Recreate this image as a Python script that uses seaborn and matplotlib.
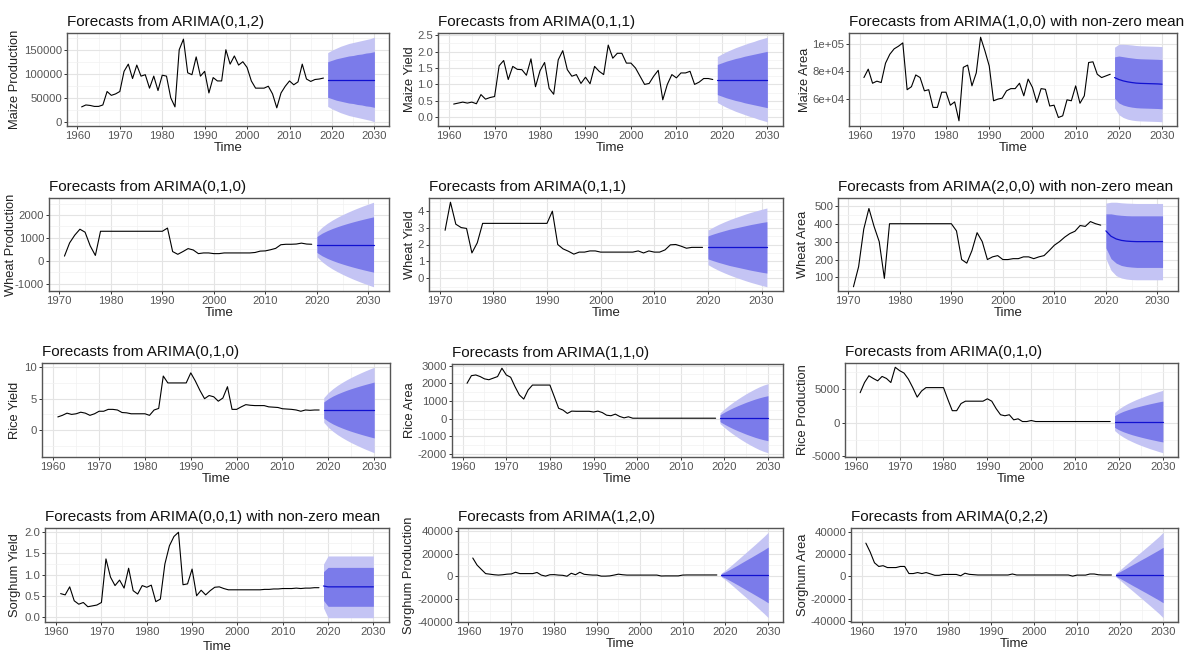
import matplotlib
matplotlib.use("Agg")
import matplotlib.pyplot as plt
from matplotlib.ticker import AutoMinorLocator
import seaborn as sns

# ---- data ----
years_a = list(range(1961, 2019))      # observed years, most panels
fc_years_a = list(range(2019, 2031))   # forecast horizon
years_b = list(range(1971, 2020))      # wheat panels
fc_years_b = list(range(2020, 2032))

maize_prod = [31000, 35000, 34000, 32000, 32000, 35000, 63000, 55000, 58000, 63000,
              105000, 120000, 90000, 118000, 95000, 98000, 70000, 95000, 65000, 97000,
              95000, 50000, 31000, 150000, 172000, 102000, 98000, 135000, 95000, 105000,
              60000, 92000, 85000, 85000, 150000, 120000, 137000, 118000, 125000, 113000,
              85000, 70000, 70000, 70000, 74000, 58000, 29000, 60000, 74000, 85000,
              77000, 83000, 120000, 89000, 84000, 88000, 89000, 91000]
maize_prod_mean = [88000, 88000, 88000, 88000, 88000, 88000, 88000, 88000, 88000, 88000, 88000, 88000]
maize_prod_h80 = [37000, 40000, 43000, 45000, 47000, 49000, 50000, 52000, 53000, 55000, 56000, 58000]
maize_prod_h95 = [56000, 61000, 65000, 69000, 72000, 75000, 77000, 79000, 81000, 83000, 85000, 88000]

maize_yield = [0.40, 0.43, 0.46, 0.43, 0.46, 0.41, 0.69, 0.55, 0.60, 0.63,
               1.57, 1.73, 1.15, 1.55, 1.46, 1.45, 1.28, 1.78, 0.93, 1.42,
               1.67, 0.88, 0.70, 1.75, 2.03, 1.45, 1.25, 1.30, 1.03, 1.22,
               1.02, 1.55, 1.40, 1.30, 2.20, 1.80, 1.95, 1.95, 1.65, 1.65,
               1.50, 1.25, 1.00, 1.03, 1.25, 1.43, 0.53, 1.00, 1.30, 1.20,
               1.35, 1.35, 1.40, 1.00, 1.07, 1.18, 1.18, 1.15]
maize_yield_mean = [1.15, 1.15, 1.15, 1.15, 1.15, 1.15, 1.15, 1.15, 1.15, 1.15, 1.15, 1.15]
maize_yield_h80 = [0.46, 0.51, 0.56, 0.60, 0.64, 0.67, 0.71, 0.74, 0.77, 0.80, 0.83, 0.86]
maize_yield_h95 = [0.70, 0.78, 0.85, 0.91, 0.97, 1.02, 1.07, 1.12, 1.16, 1.21, 1.25, 1.29]

maize_area = [75600, 81700, 71500, 73000, 72000, 86000, 92500, 96400, 98300, 100700,
              66800, 69000, 77500, 75600, 66000, 66800, 54000, 54000, 65000, 65000,
              55600, 58000, 44300, 83000, 84600, 69600, 79000, 104800, 95000, 84000,
              58800, 60000, 60700, 66000, 67600, 67600, 71500, 62400, 74500, 68500,
              57600, 67600, 67100, 55000, 55600, 46700, 47900, 59500, 58800, 69600,
              57000, 62400, 86500, 87000, 78000, 75600, 76800, 78000]
maize_area_mean = [75600, 74200, 73200, 72500, 72000, 71600, 71400, 71300, 71200, 71100, 71000, 70800]
maize_area_h80 = [15000, 17000, 17500, 17700, 17800, 17800, 17800, 17800, 17800, 17800, 17800, 17800]
maize_area_h95 = [22000, 25500, 26500, 27000, 27200, 27200, 27200, 27200, 27200, 27200, 27200, 27200]

wheat_prod = [200, 780, 1120, 1380, 1250, 650, 230, 1290, 1290, 1290,
              1290, 1290, 1290, 1290, 1290, 1290, 1290, 1290, 1290, 1290,
              1430, 400, 280, 400, 530, 470, 310, 340, 340, 310,
              310, 340, 340, 340, 340, 340, 340, 360, 420, 430,
              480, 540, 700, 720, 720, 730, 770, 730, 720]
wheat_prod_mean = [710, 710, 710, 710, 710, 710, 710, 710, 710, 710, 710, 710]
wheat_prod_h80 = [350, 495, 606, 700, 783, 857, 926, 990, 1050, 1107, 1161, 1212]
wheat_prod_h95 = [535, 757, 927, 1070, 1196, 1310, 1415, 1513, 1605, 1692, 1774, 1853]

wheat_yield = [2.84, 4.50, 3.20, 3.00, 2.95, 1.50, 2.10, 3.25, 3.25, 3.25,
               3.25, 3.25, 3.25, 3.25, 3.25, 3.25, 3.25, 3.25, 3.25, 3.25,
               3.97, 2.00, 1.74, 1.60, 1.43, 1.55, 1.55, 1.62, 1.62, 1.55,
               1.55, 1.55, 1.55, 1.55, 1.55, 1.55, 1.62, 1.50, 1.62, 1.55,
               1.55, 1.68, 1.98, 2.00, 1.90, 1.78, 1.83, 1.83, 1.83]
wheat_yield_mean = [1.83, 1.83, 1.83, 1.83, 1.83, 1.83, 1.83, 1.83, 1.83, 1.83, 1.83, 1.83]
wheat_yield_h80 = [0.68, 0.79, 0.89, 0.98, 1.07, 1.14, 1.21, 1.28, 1.35, 1.41, 1.47, 1.52]
wheat_yield_h95 = [1.02, 1.20, 1.36, 1.50, 1.63, 1.75, 1.86, 1.97, 2.07, 2.16, 2.25, 2.33]

wheat_area = [48, 160, 370, 485, 385, 300, 95, 400, 400, 400,
              400, 400, 400, 400, 400, 400, 400, 400, 400, 400,
              360, 200, 180, 250, 350, 300, 200, 215, 222, 200,
              200, 205, 205, 215, 215, 205, 215, 222, 250, 280,
              300, 325, 345, 358, 390, 385, 412, 400, 392]
wheat_area_mean = [360, 330, 315, 307, 303, 301, 300, 300, 300, 300, 300, 300]
wheat_area_h80 = [95, 125, 135, 140, 142, 143, 144, 144, 144, 144, 144, 144]
wheat_area_h95 = [155, 190, 205, 210, 212, 213, 213, 213, 213, 213, 213, 213]

rice_yield = [2.1, 2.35, 2.7, 2.5, 2.6, 2.85, 2.7, 2.35, 2.6, 3.0,
              3.0, 3.3, 3.3, 3.2, 2.8, 2.75, 2.6, 2.6, 2.6, 2.6,
              2.35, 3.2, 3.45, 8.6, 7.5, 7.5, 7.5, 7.5, 7.5, 9.1,
              7.8, 6.3, 5.0, 5.5, 5.3, 4.6, 5.1, 6.9, 3.3, 3.3,
              3.7, 4.05, 3.95, 3.9, 3.9, 3.9, 3.7, 3.65, 3.6, 3.4,
              3.35, 3.3, 3.2, 3.0, 3.2, 3.15, 3.2, 3.2]
rice_yield_mean = [3.2, 3.2, 3.2, 3.2, 3.2, 3.2, 3.2, 3.2, 3.2, 3.2, 3.2, 3.2]
rice_yield_h80 = [1.28, 1.81, 2.22, 2.56, 2.86, 3.14, 3.39, 3.62, 3.84, 4.05, 4.25, 4.44]
rice_yield_h95 = [1.96, 2.77, 3.39, 3.92, 4.38, 4.80, 5.19, 5.54, 5.88, 6.20, 6.50, 6.79]

rice_area = [2000, 2430, 2470, 2380, 2250, 2200, 2290, 2380, 2850, 2470,
             2340, 1810, 1340, 1110, 1620, 1900, 1900, 1900, 1900, 1900,
             1250, 590, 490, 300, 430, 420, 420, 420, 420, 380,
             430, 350, 200, 170, 260, 130, 50, 110, 30, 30,
             30, 30, 30, 30, 30, 30, 30, 30, 30, 30,
             30, 30, 30, 30, 30, 30, 30, 30]
rice_area_mean = [30, 30, 30, 30, 30, 30, 30, 30, 30, 30, 30, 30]
rice_area_h80 = [195, 340, 470, 590, 700, 800, 900, 990, 1075, 1150, 1215, 1270]
rice_area_h95 = [300, 520, 720, 900, 1070, 1230, 1380, 1520, 1650, 1770, 1870, 1950]

rice_prod = [4400, 5900, 6900, 6500, 6150, 6800, 6500, 5900, 8150, 7650,
             7300, 6400, 5150, 3750, 4650, 5150, 5150, 5150, 5150, 5150,
             3400, 1750, 1750, 2800, 3150, 3150, 3150, 3150, 3150, 3500,
             3150, 2050, 1150, 1000, 1150, 400, 550, 150, 150, 300,
             150, 150, 150, 150, 150, 150, 150, 150, 150, 150,
             150, 150, 150, 150, 150, 150, 150, 150]
rice_prod_mean = [150, 150, 150, 150, 150, 150, 150, 150, 150, 150, 150, 150]
rice_prod_h80 = [870, 1230, 1510, 1740, 1950, 2130, 2300, 2460, 2610, 2750, 2890, 3010]
rice_prod_h95 = [1330, 1880, 2300, 2660, 2970, 3260, 3520, 3760, 3990, 4200, 4410, 4600]

sorghum_yield = [0.55, 0.52, 0.71, 0.38, 0.30, 0.34, 0.24, 0.26, 0.28, 0.34,
                 1.37, 0.94, 0.74, 0.87, 0.68, 1.15, 0.62, 0.54, 0.74, 0.70,
                 0.75, 0.36, 0.42, 1.25, 1.68, 1.90, 2.00, 0.76, 0.78, 1.13,
                 0.50, 0.63, 0.52, 0.62, 0.70, 0.71, 0.67, 0.64, 0.64, 0.64,
                 0.64, 0.64, 0.64, 0.64, 0.64, 0.65, 0.65, 0.66, 0.66, 0.67,
                 0.67, 0.67, 0.68, 0.67, 0.68, 0.68, 0.69, 0.69]
sorghum_yield_mean = [0.73, 0.71, 0.71, 0.71, 0.71, 0.71, 0.71, 0.71, 0.71, 0.71, 0.71, 0.71]
sorghum_yield_h80 = [0.34, 0.46, 0.46, 0.46, 0.46, 0.46, 0.46, 0.46, 0.46, 0.46, 0.46, 0.46]
sorghum_yield_h95 = [0.52, 0.73, 0.73, 0.73, 0.73, 0.73, 0.73, 0.73, 0.73, 0.73, 0.73, 0.73]

sorghum_prod = [16200, 10000, 6200, 2500, 2000, 1500, 1200, 1500, 2000, 2200,
                3700, 2500, 2500, 2500, 2500, 3500, 1200, 300, 1500, 1600,
                1200, 1000, 200, 2800, 1500, 3700, 1900, 1500, 1200, 1200,
                300, 300, 500, 1200, 2000, 1500, 1200, 1200, 1200, 1200,
                1200, 1200, 1200, 1200, 400, 500, 500, 500, 500, 1200,
                1300, 1300, 1300, 1300, 1300, 1300, 1300, 1300]
sorghum_prod_mean = [1300, 1300, 1300, 1300, 1300, 1300, 1300, 1300, 1300, 1300, 1300, 1300]
sorghum_prod_h80 = [1000, 2800, 4800, 6900, 9000, 11200, 13400, 15500, 17700, 19900, 22100, 24500]
sorghum_prod_h95 = [1500, 4200, 7300, 10500, 13800, 17100, 20400, 23700, 27000, 30400, 33800, 37500]

sorghum_area = [30000, 22000, 12300, 9000, 9700, 8000, 8000, 8000, 9000, 9000,
                2600, 2600, 3500, 2600, 3500, 2300, 1000, 1000, 1800, 1800,
                1800, 1800, 600, 2900, 1900, 1600, 1300, 1300, 1300, 1300,
                1300, 1300, 1300, 1300, 2200, 1300, 1300, 1300, 1300, 1300,
                1300, 1300, 1300, 1300, 1300, 1300, 1300, 1300, 300, 1200,
                1200, 1200, 2200, 2200, 1500, 1300, 1300, 1300]
sorghum_area_mean = [1300, 1300, 1300, 1300, 1300, 1300, 1300, 1300, 1300, 1300, 1300, 1300]
sorghum_area_h80 = [1000, 3100, 5200, 7400, 9600, 11700, 13900, 16000, 18200, 20400, 22600, 25000]
sorghum_area_h95 = [1500, 4700, 8000, 11300, 14600, 17900, 21200, 24500, 27800, 31200, 34600, 38500]

W, H = 1193, 656
LIGHT = "#c4c4f4"
DARK = "#7b7bea"
MEAN = "#1010d0"

sns.set_theme(style="whitegrid")
plt.rcParams['font.family'] = ['Liberation Sans', 'DejaVu Sans']

fig = plt.figure(figsize=(W / 100, H / 100), dpi=100)
fig.patch.set_facecolor("white")


def draw_panel(box, label_x, title, ylabel, yrs, vals, fyrs, fmean, h80, h95,
               yticks, ylabels, xticks, xpad=1):
    l, t, r, b = box
    ax = fig.add_axes([l / W, 1 - b / H, (r - l) / W, (b - t) / H])
    ax.set_facecolor("white")
    lo95 = [m - h for m, h in zip(fmean, h95)]
    hi95 = [m + h for m, h in zip(fmean, h95)]
    lo80 = [m - h for m, h in zip(fmean, h80)]
    hi80 = [m + h for m, h in zip(fmean, h80)]
    ax.fill_between(fyrs, lo95, hi95, color=LIGHT, lw=0, zorder=2)
    ax.fill_between(fyrs, lo80, hi80, color=DARK, lw=0, zorder=3)
    sns.lineplot(x=yrs, y=vals, ax=ax, color="black", lw=0.8, zorder=4)
    sns.lineplot(x=fyrs, y=fmean, ax=ax, color=MEAN, lw=0.9, zorder=5)
    ax.margins(x=0.05, y=0.05)
    ax.set_xticks(xticks)
    ax.set_yticks(yticks)
    ax.set_yticklabels(ylabels)
    ax.xaxis.set_minor_locator(AutoMinorLocator(2))
    ax.yaxis.set_minor_locator(AutoMinorLocator(2))
    ax.grid(which="major", color="#e4e4e4", lw=0.8)
    ax.grid(which="minor", color="#f1f1f1", lw=0.5)
    ax.set_axisbelow(True)
    ax.tick_params(which="major", length=2.5, width=0.7, color="#333333",
                   labelcolor="#555555", labelsize=8.2, pad=1.0,
                   bottom=True, left=True)
    ax.tick_params(which="minor", length=0)
    for sp in ax.spines.values():
        sp.set_color("#555555")
        sp.set_linewidth(1.0)
    ax.set_title(title, loc="left", fontsize=11, pad=5, color="#111111")
    ax.set_xlabel("Time", fontsize=9.5, labelpad=xpad, color="#222222")
    ax.set_ylabel(ylabel, fontsize=9.3, color="#222222")
    # y title anchored at a fixed pixel x (right edge of the rotated text)
    ax.yaxis.set_label_coords((label_x - l) / (r - l), 0.5)
    return ax


dec_a = [1960, 1970, 1980, 1990, 2000, 2010, 2020, 2030]
dec_b = [1970, 1980, 1990, 2000, 2010, 2020, 2030]

draw_panel((67, 33, 389, 126), 21, "Forecasts from ARIMA(0,1,2)", "Maize Production",
           years_a, maize_prod, fc_years_a, maize_prod_mean, maize_prod_h80, maize_prod_h95,
           [0, 50000, 100000, 150000], ["0", "50000", "100000", "150000"], dec_a)
draw_panel((438, 33, 783, 126), 416, "Forecasts from ARIMA(0,1,1)", "Maize Yield",
           years_a, maize_yield, fc_years_a, maize_yield_mean, maize_yield_h80, maize_yield_h95,
           [0, 0.5, 1.0, 1.5, 2.0, 2.5], ["0.0", "0.5", "1.0", "1.5", "2.0", "2.5"], dec_a)
draw_panel((849, 33, 1177, 126), 811, "Forecasts from ARIMA(1,0,0) with non-zero mean", "Maize Area",
           years_a, maize_area, fc_years_a, maize_area_mean, maize_area_h80, maize_area_h95,
           [60000, 80000, 100000], ["6e+04", "8e+04", "1e+05"], dec_a)

draw_panel((49, 198, 389, 291), 17, "Forecasts from ARIMA(0,1,0)", "Wheat Production",
           years_b, wheat_prod, fc_years_b, wheat_prod_mean, wheat_prod_h80, wheat_prod_h95,
           [-1000, 0, 1000, 2000], ["-1000", "0", "1000", "2000"], dec_b)
draw_panel((429, 198, 783, 291), 416, "Forecasts from ARIMA(0,1,1)", "Wheat Yield",
           years_b, wheat_yield, fc_years_b, wheat_yield_mean, wheat_yield_h80, wheat_yield_h95,
           [0, 1, 2, 3, 4], ["0", "1", "2", "3", "4"], dec_b)
draw_panel((838, 198, 1178, 291), 809, "Forecasts from ARIMA(2,0,0) with non-zero mean", "Wheat Area",
           years_b, wheat_area, fc_years_b, wheat_area_mean, wheat_area_h80, wheat_area_h95,
           [100, 200, 300, 400, 500], ["100", "200", "300", "400", "500"], dec_b)

draw_panel((42, 363, 390, 457), 21, "Forecasts from ARIMA(0,1,0)", "Rice Yield",
           years_a, rice_yield, fc_years_a, rice_yield_mean, rice_yield_h80, rice_yield_h95,
           [0, 5, 10], ["0", "5", "10"], dec_a)
draw_panel((452, 364, 783, 457), 416, "Forecasts from ARIMA(1,1,0)", "Rice Area",
           years_a, rice_area, fc_years_a, rice_area_mean, rice_area_h80, rice_area_h95,
           [-2000, -1000, 0, 1000, 2000, 3000],
           ["-2000", "-1000", "0", "1000", "2000", "3000"], dec_a)
draw_panel((845, 363, 1178, 457), 809, "Forecasts from ARIMA(0,1,0)", "Rice Production",
           years_a, rice_prod, fc_years_a, rice_prod_mean, rice_prod_h80, rice_prod_h95,
           [-5000, 0, 5000], ["-5000", "0", "5000"], dec_a)

draw_panel((45, 528, 389, 622), 21, "Forecasts from ARIMA(0,0,1) with non-zero mean", "Sorghum Yield",
           years_a, sorghum_yield, fc_years_a, sorghum_yield_mean, sorghum_yield_h80, sorghum_yield_h95,
           [0, 0.5, 1.0, 1.5, 2.0], ["0.0", "0.5", "1.0", "1.5", "2.0"], dec_a, xpad=3)
draw_panel((458, 528, 783, 622), 415, "Forecasts from ARIMA(1,2,0)", "Sorghum Production",
           years_a, sorghum_prod, fc_years_a, sorghum_prod_mean, sorghum_prod_h80, sorghum_prod_h95,
           [-40000, -20000, 0, 20000, 40000], ["-40000", "-20000", "0", "20000", "40000"], dec_a)
draw_panel((851, 528, 1178, 622), 809, "Forecasts from ARIMA(0,2,2)", "Sorghum Area",
           years_a, sorghum_area, fc_years_a, sorghum_area_mean, sorghum_area_h80, sorghum_area_h95,
           [-40000, -20000, 0, 20000, 40000], ["-40000", "-20000", "0", "20000", "40000"], dec_a)

fig.savefig("out.png", dpi=100, facecolor="white")
